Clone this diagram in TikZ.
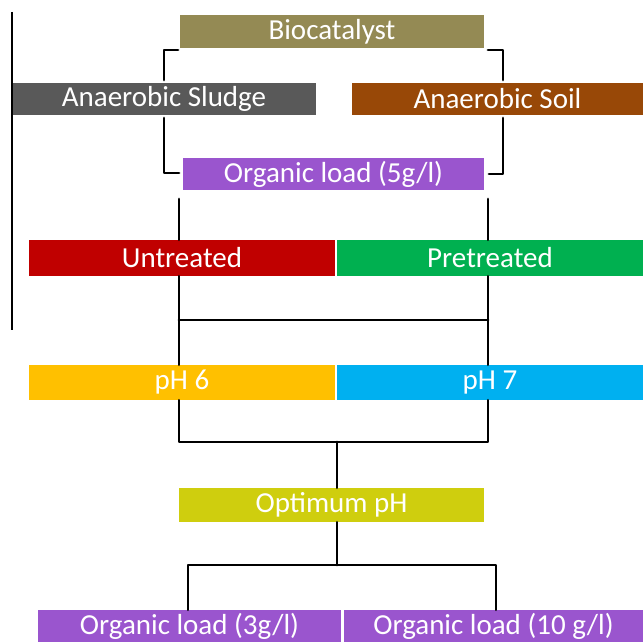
\documentclass[tikz,border=0pt]{standalone}
\usepackage{fontspec}
\setmainfont{Carlito}
\definecolor{cBio}{HTML}{948A54}
\definecolor{cSludge}{HTML}{595959}
\definecolor{cSoil}{HTML}{984807}
\definecolor{cPurple}{HTML}{9A55CE}
\definecolor{cRed}{HTML}{C00000}
\definecolor{cGreen}{HTML}{00B050}
\definecolor{cAmber}{HTML}{FFC000}
\definecolor{cSky}{HTML}{00B0F0}
\definecolor{cOpt}{HTML}{CFCE0E}
\begin{document}
\begin{tikzpicture}[x=1pt,y=-1pt,
  box/.style={rectangle, inner sep=0pt, text=white, font=\fontsize{29}{32}\selectfont},
  conn/.style={draw=black, line width=2.8pt, line join=round, line cap=round},
  thinline/.style={draw=black, line width=1.5pt}]
\useasboundingbox (0,0) rectangle (643,642);
% nodes
\node[box, fill=cBio, minimum width=304pt, minimum height=33pt] (bio) at (332,31.5) {Biocatalyst};
\node[box, fill=cSludge, minimum width=304pt, minimum height=32pt] (sludge) at (164,99) {Anaerobic Sludge};
\node[box, fill=cSoil, minimum width=291pt, minimum height=32pt] (soil) at (497.5,99) {Anaerobic Soil};
\node[box, fill=cPurple, minimum width=301pt, minimum height=32pt] (org5) at (333.5,174) {Organic load (5g/l)};
\node[box, fill=cRed, minimum width=306pt, minimum height=36pt] (untr) at (182,258) {Untreated};
\node[box, fill=cGreen, minimum width=306pt, minimum height=36pt] (pretr) at (490,258) {Pretreated};
\node[box, fill=cAmber, minimum width=306pt, minimum height=35pt] (ph6) at (182,382.5) {pH 6};
\node[box, fill=cSky, minimum width=306pt, minimum height=35pt] (ph7) at (490,382.5) {pH 7};
\node[box, fill=cOpt, minimum width=305pt, minimum height=34pt] (opt) at (331.5,505) {Optimum pH};
\node[box, fill=cPurple, minimum width=303pt, minimum height=32pt] (org3) at (189.5,626) {Organic load (3g/l)};
\node[box, fill=cPurple, minimum width=299pt, minimum height=32pt] (org10) at (493.5,626) {Organic load (10 g/l)};
% left rule
\coordinate (ruletop) at (12,12);
\coordinate (rulebot) at (12,330);
\draw[thinline] (ruletop) -- (rulebot);
% brackets
\coordinate (lb1) at (178,50);
\coordinate (lb2) at (164,50);
\coordinate (lb3) at (164,80);
\coordinate (lb4) at (164,118);
\coordinate (lb5) at (164,173);
\coordinate (lb6) at (179,173);
\draw[conn] (lb1) -- (lb2) -- (lb3);
\draw[conn] (lb4) -- (lb5) -- (lb6);
\coordinate (rb1) at (488,50);
\coordinate (rb2) at (503,50);
\coordinate (rb3) at (503,80);
\coordinate (rb4) at (503,118);
\coordinate (rb5) at (503,174);
\coordinate (rb6) at (489,174);
\draw[conn] (rb1) -- (rb2) -- (rb3);
\draw[conn] (rb4) -- (rb5) -- (rb6);
% from organic load 5 to treatments
\coordinate (la) at (179,199);
\coordinate (ra) at (488,199);
\draw[conn] (la) -- (la |- untr.north);
\draw[conn] (ra) -- (ra |- pretr.north);
\draw[conn] (la |- untr.south) -- (la |- ph6.north);
\draw[conn] (ra |- pretr.south) -- (ra |- ph7.north);
\coordinate (jl) at (179,320);
\coordinate (jr) at (488,320);
\draw[conn] (jl) -- (jr);
% pH to optimum
\coordinate (ql) at (179,442);
\coordinate (qr) at (488,442);
\coordinate (qm) at (337,442);
\draw[conn] (ql |- ph6.south) -- (ql) -- (qr) -- (qr |- ph7.south);
\draw[conn] (qm) -- (qm |- opt.north);
% optimum to organic loads
\coordinate (om) at (337,565);
\coordinate (ol) at (188,565);
\coordinate (or) at (496,565);
\draw[conn] (om |- opt.south) -- (om);
\draw[conn] (ol |- org3.north) -- (ol) -- (or) -- (or |- org10.north);
\end{tikzpicture}
\end{document}
